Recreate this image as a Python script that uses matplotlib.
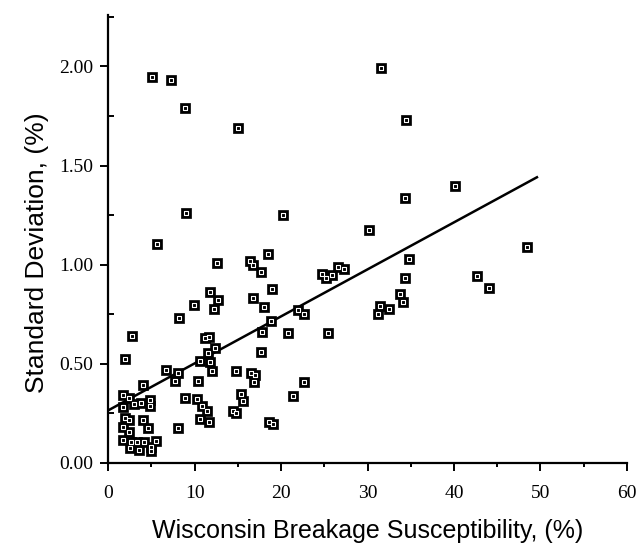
import matplotlib
matplotlib.use("Agg")
import matplotlib.pyplot as plt
from matplotlib.ticker import MultipleLocator

# Wisconsin breakage susceptibility (%) vs standard deviation (%)
wbs = [
    5.09, 7.28, 8.90, 15.03, 31.56, 34.45, 40.12, 34.34, 9.02, 20.23,
    30.17, 5.66, 48.44, 34.80, 18.50, 16.42, 16.76, 12.60, 17.69, 18.96,
    16.76, 18.03, 11.79, 12.72, 12.25, 9.94, 8.21, 18.84, 17.80, 20.81,
    25.43, 21.97, 22.66, 24.74, 25.90, 25.20, 26.59, 27.28, 34.34, 33.76,
    34.10, 31.45, 32.49, 31.21, 42.66, 44.05, 2.77, 11.68, 11.21, 12.37,
    11.56, 11.79, 10.64, 12.02, 14.80, 16.53, 17.00, 16.88, 22.66, 17.69,
    6.71, 8.09, 7.75, 10.40, 15.38, 15.61, 21.39, 14.45, 14.80, 18.61,
    19.08, 1.97, 4.05, 8.90, 10.29, 10.87, 11.45, 10.64, 11.68, 8.09,
    1.73, 2.43, 3.01, 3.82, 4.86, 4.86, 1.73, 1.97, 2.43, 4.05,
    1.73, 2.43, 4.62, 1.73, 2.66, 3.35, 4.16, 5.55, 2.54, 3.58,
    4.97, 4.97,
]
std_dev = [
    1.945, 1.930, 1.788, 1.688, 1.990, 1.728, 1.395, 1.335, 1.259, 1.249,
    1.174, 1.103, 1.088, 1.028, 1.053, 1.018, 0.997, 1.008, 0.962, 0.877,
    0.831, 0.786, 0.861, 0.821, 0.776, 0.796, 0.730, 0.715, 0.660, 0.655,
    0.655, 0.771, 0.751, 0.952, 0.947, 0.932, 0.987, 0.977, 0.932, 0.851,
    0.811, 0.791, 0.776, 0.751, 0.942, 0.882, 0.640, 0.635, 0.630, 0.579,
    0.554, 0.509, 0.514, 0.463, 0.463, 0.453, 0.443, 0.408, 0.408, 0.559,
    0.469, 0.453, 0.413, 0.413, 0.348, 0.312, 0.338, 0.262, 0.252, 0.207,
    0.196, 0.524, 0.393, 0.327, 0.322, 0.287, 0.262, 0.222, 0.207, 0.176,
    0.343, 0.327, 0.297, 0.302, 0.317, 0.287, 0.282, 0.227, 0.217, 0.217,
    0.181, 0.156, 0.176, 0.116, 0.106, 0.106, 0.106, 0.111, 0.076, 0.065,
    0.081, 0.060,
]

# regression line end points
fit_x = [0.0, 49.6]
fit_y = [0.265, 1.441]

x_ticks = [0, 10, 20, 30, 40, 50, 60]
y_ticks = [0.0, 0.5, 1.0, 1.5, 2.0]

fig = plt.figure(figsize=(6.37, 5.53), dpi=100)
ax = fig.add_axes([0.170, 0.163, 0.814, 0.810])

ax.plot(fit_x, fit_y, color="black", linewidth=1.8, zorder=2)
ax.scatter(wbs, std_dev, marker="s", s=62, facecolors="black",
           edgecolors="black", linewidths=0.5, zorder=3)
ax.scatter(wbs, std_dev, marker="s", s=5, facecolors="black",
           edgecolors="white", linewidths=0.8, zorder=4)

ax.set_xlim(0, 60)
ax.set_ylim(0, 2.26)
ax.set_xticks(x_ticks)
ax.set_yticks(y_ticks)
ax.set_yticklabels([f"{v:.2f}" for v in y_ticks])
ax.xaxis.set_minor_locator(MultipleLocator(5))
ax.yaxis.set_minor_locator(MultipleLocator(0.25))

for side in ("top", "right"):
    ax.spines[side].set_visible(False)
for side in ("left", "bottom"):
    ax.spines[side].set_linewidth(1.6)

ax.tick_params(axis="x", which="major", direction="out", length=6, width=1.4)
ax.tick_params(axis="x", which="minor", direction="out", length=3, width=1.4)
ax.tick_params(axis="y", which="major", direction="out", length=6, width=1.4)
ax.tick_params(axis="y", which="minor", direction="in", length=4, width=1.4)
for lab in ax.get_xticklabels() + ax.get_yticklabels():
    lab.set_family("Liberation Serif")
    lab.set_fontsize(14)
ax.tick_params(axis="x", pad=10)
ax.tick_params(axis="y", pad=5)

ax.set_xlabel("Wisconsin Breakage Susceptibility, (%)", family="Liberation Sans",
              fontsize=18, labelpad=12)
ax.set_ylabel("Standard Deviation, (%)", family="Liberation Sans",
              fontsize=19)
ax.yaxis.set_label_coords(-0.115, 0.47)

fig.savefig("out.png", dpi=100)
